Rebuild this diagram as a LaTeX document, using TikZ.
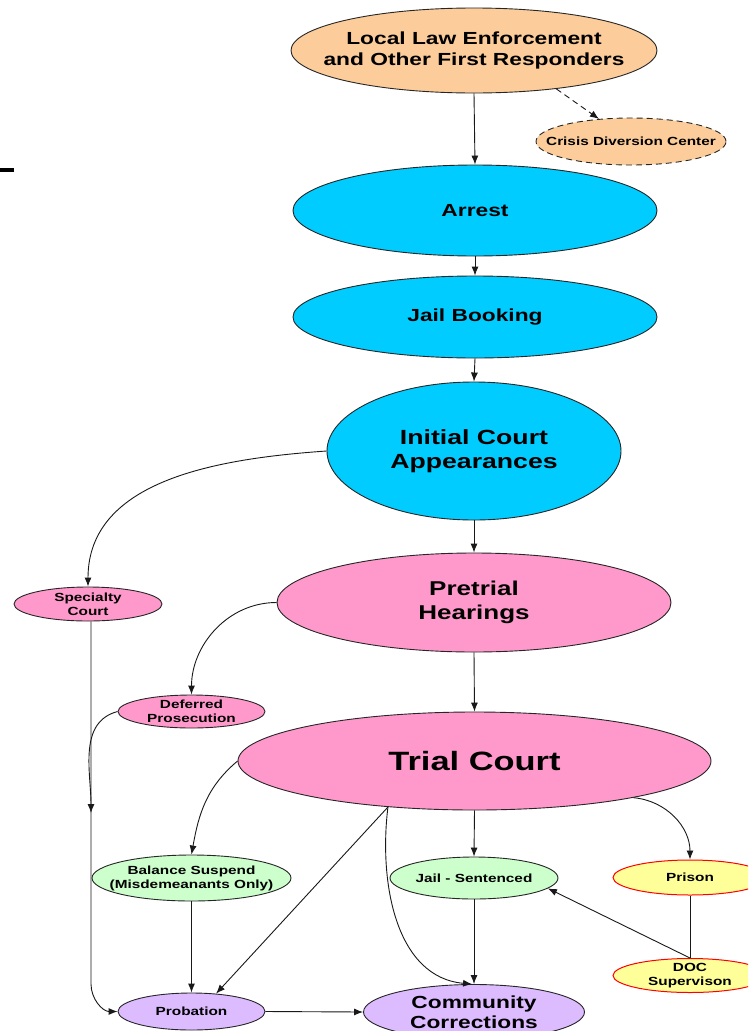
\documentclass[tikz,border=0pt]{standalone}
\usepackage{fontspec}
\usetikzlibrary{shapes.geometric,arrows.meta}
\newfontfamily\wfont{Liberation Sans}[FakeStretch=1.3]
\definecolor{cOrange}{HTML}{FCCD9A}
\definecolor{cCyan}{HTML}{00CCFF}
\definecolor{cPink}{HTML}{FF99CC}
\definecolor{cGreen}{HTML}{CCFFCC}
\definecolor{cYellow}{HTML}{FFFF99}
\definecolor{cPurple}{HTML}{DDBBFF}
\newcommand\fsz[2]{\fontsize{#1}{#2}\selectfont}
\tikzset{
  ell/.style={ellipse, draw=black!85, line width=0.9pt, inner sep=0pt},
  redell/.style={ellipse, draw=red, line width=1pt, inner sep=0pt, fill=cYellow},
  txt/.style={align=center, text=black, inner sep=0pt},
  big/.style={txt, font=\wfont\bfseries\fsz{17.5}{21}},
  small/.style={txt, font=\wfont\bfseries\fsz{11.8}{14}},
  arr/.style={draw=black!90, line width=0.9pt, -{Latex[length=9pt,width=7pt]}},
  plainln/.style={draw=black!90, line width=0.9pt},
}
\begin{document}
\begin{tikzpicture}[x=1pt,y=1pt]
\useasboundingbox (0,0) rectangle (748,-1031);
\clip (0,0) rectangle (748,-1031);
\fill[white] (0,0) rectangle (748,-1031);

% stray mark at left
\draw[line width=3.6pt, black] (0,-170) -- (14,-170);

% nodes
\node[ell, fill=cOrange, minimum width=366pt, minimum height=85pt,
  label={[big, name=lle-t]center:Local Law Enforcement\\and Other First Responders}] (lle) at (474,-50.5) {};
\node[ell, fill=cOrange, dashed, dash pattern=on 6pt off 4pt, minimum width=190pt, minimum height=47pt,
  label={[small, name=crisis-t]center:Crisis Diversion Center}] (crisis) at (631,-141.5) {};
\node[ell, fill=cCyan, minimum width=364pt, minimum height=91pt,
  label={[big, name=arrest-t]center:Arrest}] (arrest) at (475,-210.5) {};
\node[ell, fill=cCyan, minimum width=364pt, minimum height=82pt,
  label={[big, name=jb-t]center:Jail Booking}] (jb) at (475,-317) {};
\node[ell, fill=cCyan, minimum width=294pt, minimum height=138pt,
  label={[txt, font=\wfont\bfseries\fsz{20.5}{24.5}, name=ica-t]center:Initial Court\\Appearances}] (ica) at (474,-451) {};
\node[ell, fill=cPink, minimum width=394pt, minimum height=99pt,
  label={[txt, font=\wfont\bfseries\fsz{20}{24}, name=pre-t]center:Pretrial\\Hearings}] (pre) at (474,-602.5) {};
\node[ell, fill=cPink, minimum width=148pt, minimum height=34pt,
  label={[small, name=spec-t]center:Specialty\\Court}] (spec) at (88,-604) {};
\node[ell, fill=cPink, minimum width=147pt, minimum height=33pt,
  label={[small, name=def-t]center:Deferred\\Prosecution}] (def) at (191.5,-711.5) {};
\node[ell, fill=cPink, minimum width=473pt, minimum height=98pt,
  label={[txt, font=\wfont\bfseries\fsz{26.5}{30}, name=trial-t]center:Trial Court}] (trial) at (474.5,-761) {};
\node[ell, fill=cGreen, minimum width=199pt, minimum height=46pt,
  label={[small, name=bal-t]center:Balance Suspend\\(Misdemeanants Only)}] (bal) at (191.5,-878) {};
\node[ell, fill=cGreen, minimum width=168pt, minimum height=42pt,
  label={[small, name=jail-t]center:Jail - Sentenced}] (jail) at (474,-878) {};
\node[redell, minimum width=154pt, minimum height=35pt,
  label={[small, name=prison-t]center:Prison}] (prison) at (690,-877.5) {};
\node[redell, minimum width=154pt, minimum height=34pt,
  label={[small, name=doc-t]center:DOC\\Supervison}] (doc) at (690,-975.5) {};
\node[ell, fill=cPurple, minimum width=147pt, minimum height=37pt,
  label={[small, name=prob-t]center:Probation}] (prob) at (191.5,-1011.5) {};
\node[ell, fill=cPurple, minimum width=221pt, minimum height=55pt,
  label={[txt, font=\wfont\bfseries\fsz{17.5}{20}, name=cc-t]center:Community\\Corrections}] (cc) at (474,-1012) {};

\coordinate (jn) at (91,-813);

% connectors
\draw[arr] (lle.south) -- (arrest.north);
\draw[arr, dashed, dash pattern=on 6pt off 4pt] (lle.-25) -- (crisis) ;
\draw[arr] (arrest.south) -- (jb.north);
\draw[arr] (jb.south) -- (ica.north);
\draw[arr] (ica.west) to[out=184, in=90] (spec.north);
\draw[arr] (ica.south) -- (pre.north);
\draw[arr] (pre.west) to[out=180, in=90] (def.north);
\draw[arr] (pre.south) -- (trial.north);
\draw[arr] (spec.south -| jn) -- (jn |- cc.north) to[out=-90, in=180] (prob.west);
\draw[arr] (def.west) to[out=195, in=90] (jn);
\draw[arr] (trial.west) to[out=220, in=80] (bal.north);
\draw[arr] (trial.south) -- (jail.north);
\draw[arr] (trial.-13) to[out=-5, in=90] (prison.north);
\draw[arr] (trial.-152) -- (prob.36);
\draw[arr] (trial.-152) to[out=-97, in=175] (cc.94);
\draw[arr] (bal.south) -- (prob.north);
\draw[arr] (jail.south) -- (cc.north);
\draw[arr] (prob.east) -- (cc.west);
\draw[plainln] (prison.south) -- (doc.north);
\draw[arr] (doc.north) -- (jail.-8);
\end{tikzpicture}
\end{document}
